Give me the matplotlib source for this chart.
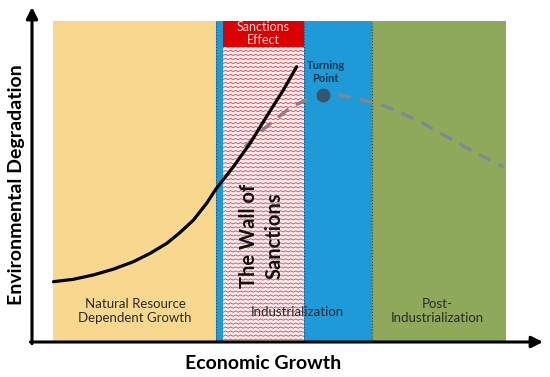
import numpy as np
import matplotlib.pyplot as plt
from matplotlib.patches import Rectangle

plt.rcParams['font.family'] = ['Lato', 'DejaVu Sans']

# development phases along the economic growth axis (0-100 scale)
phase_labels = ['Natural Resource\nDependent Growth', 'Industrialization', 'Post-\nIndustrialization']
phase_start = [4.1, 36.0, 66.5]
phase_end = [36.0, 66.5, 92.8]
phase_colors = ['#f8d88e', '#1f9ad8', '#8fa95a']
phase_top = 95.3

# sanctions wall inside the industrialization phase
wall_start = 37.4
wall_end = 53.2
effect_bottom = 87.5

# actual path under sanctions (solid)
actual_x = [4.2, 8.1, 12.0, 15.9, 19.8, 23.1, 26.4, 28.9, 31.6, 34.2, 36.0, 39.4, 42.7, 45.9, 49.2, 51.8]
actual_y = [17.9, 18.6, 19.9, 21.6, 23.8, 26.3, 29.3, 32.4, 36.2, 41.2, 45.4, 52.0, 59.0, 66.9, 74.8, 81.7]

# expected Kuznets path (dashed)
ekc_x = [41.7, 44.3, 47.9, 50.8, 54.4, 57.0, 60.3, 64.8, 69.4, 75.3, 81.2, 87.0, 92.2]
ekc_y = [58.0, 61.9, 66.4, 69.8, 72.3, 73.3, 73.3, 71.8, 69.8, 65.9, 60.9, 56.0, 52.0]
turning_x = 57.0
turning_y = 73.3

fig = plt.figure(figsize=(5.5, 3.77), dpi=100)
ax = fig.add_axes([32 / 550, 35 / 377, 511 / 550, 337 / 377])
ax.set_xlim(0, 100)
ax.set_ylim(0, 100)
ax.axis('off')

# phase bands
for start, end, color in zip(phase_start, phase_end, phase_colors):
    ax.add_patch(Rectangle((start, 0), end - start, phase_top, facecolor=color, edgecolor='none', zorder=1))
for b in [phase_start[1], wall_end, phase_start[2]]:
    ax.plot([b, b], [0, phase_top], color='#2a4060', lw=0.8, ls=':', zorder=2)

# hatched sanctions wall with zigzag texture
wall = Rectangle((wall_start, 0), wall_end - wall_start, effect_bottom, facecolor='#fbeeee', edgecolor='none', zorder=2)
ax.add_patch(wall)
zx = np.arange(wall_start, wall_end + 0.5, 0.49)
zoff = np.where(np.arange(len(zx)) % 2 == 0, 0.0, 0.4)
for row in np.arange(0.5, effect_bottom, 1.19):
    ln, = ax.plot(zx, row + zoff, color='#d9505a', lw=0.65, zorder=3)
    ln.set_clip_path(wall)

# sanctions effect box
ax.add_patch(Rectangle((wall_start, effect_bottom), wall_end - wall_start, phase_top - effect_bottom,
                       facecolor='#dd0000', edgecolor='none', zorder=3))
ax.text((wall_start + wall_end) / 2, (effect_bottom + phase_top) / 2, 'Sanctions\nEffect', color='#ffd6d6',
        fontsize=9, ha='center', va='center', linespacing=1.1, zorder=4)

# curves
ax.plot(ekc_x, ekc_y, color='#808890', lw=2.4, dashes=(4, 2.6), zorder=2.5)
ax.plot(actual_x, actual_y, color='black', lw=2.3, zorder=5, solid_capstyle='round', solid_joinstyle='round')
ax.plot(turning_x, turning_y, 'o', color='#35556a', markersize=9, zorder=6)
ax.text(57.5, 80.1, 'Turning\nPoint', color='#0b3552', fontsize=8, fontweight='bold',
        ha='center', va='center', linespacing=1.2, zorder=6)

# phase labels
ax.text(20.2, 9.2, phase_labels[0], fontsize=9.5, color='#2a2a2a', ha='center', va='center', linespacing=1.15, zorder=6)
ax.text(51.9, 8.9, phase_labels[1], fontsize=9.5, color='#2a2a2a', ha='center', va='center', zorder=6)
ax.text(79.3, 9.2, phase_labels[2], fontsize=9.5, color='#2a2a2a', ha='center', va='center', linespacing=1.15, zorder=6)
ax.text(45.0, 31.5, 'The Wall of\nSanctions', fontsize=14.5, fontweight='bold', color='#111111', rotation=90,
        ha='center', va='center', linespacing=1.35, zorder=6)

# axes arrows
arrow = dict(arrowstyle='-|>', lw=2.2, color='black', mutation_scale=17, shrinkA=0, shrinkB=0)
ax.annotate('', xy=(0, 99.4), xytext=(0, -0.5), arrowprops=arrow, annotation_clip=False, zorder=7)
ax.annotate('', xy=(100, 0), xytext=(-0.3, 0), arrowprops=arrow, annotation_clip=False, zorder=7)

ax.text(45.2, -8.0, 'Economic Growth', fontsize=14, fontweight='bold', ha='center', va='baseline', clip_on=False)
ax.text(-3.1, 46.6, 'Environmental Degradation', fontsize=14, fontweight='bold', rotation=90,
        ha='center', va='center', clip_on=False)

fig.savefig('out.png', dpi=100)
